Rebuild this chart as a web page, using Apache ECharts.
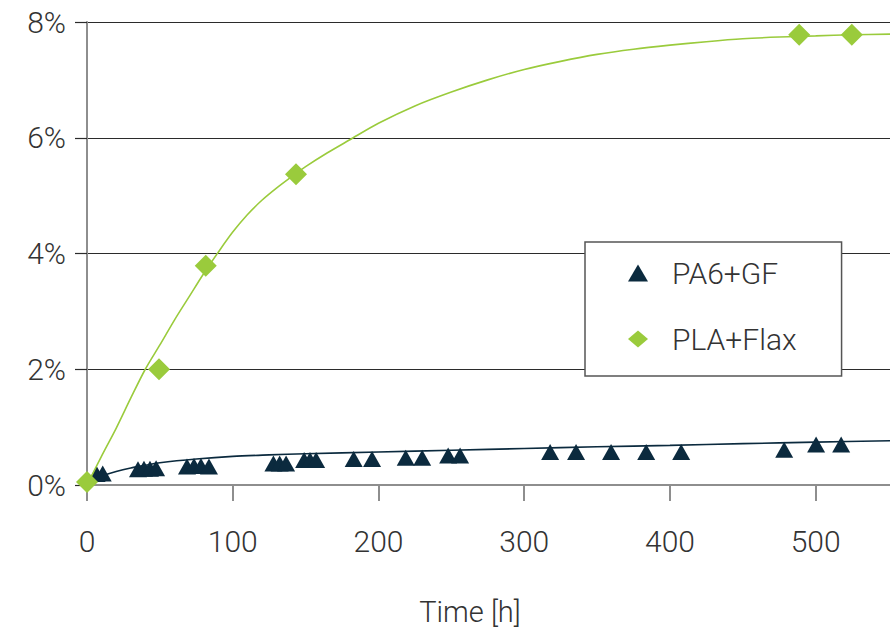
<!DOCTYPE html>
<html>
<head>
<meta charset="utf-8">
<script src="https://cdn.jsdelivr.net/npm/echarts@6/dist/echarts.min.js"></script>
<style>
  html, body { margin: 0; padding: 0; background: #fff; }
  #chart { width: 890px; height: 633px; }
</style>
</head>
<body>
<div id="chart"></div>
<script>
// ---- data ----
const seriesNames = ['PA6+GF', 'PLA+Flax'];
const xTickValues = [0, 100, 200, 300, 400, 500];
const yTickValues = [0, 2, 4, 6, 8];

// PA6+GF measurements (time h, moisture %)
const paT = [6.6, 10.8, 35, 39.1, 43.2, 47.4, 68.6, 73.4, 78.2, 83.7, 127.9, 132.2, 136.6, 149, 153, 157.2, 183, 195.6, 218.7, 230, 247.8, 256, 317.8, 335.6, 359.6, 383.7, 407.7, 478.4, 500.3, 517.5];
const paY = [0.19, 0.20, 0.27, 0.28, 0.28, 0.29, 0.32, 0.33, 0.33, 0.32, 0.37, 0.37, 0.37, 0.43, 0.43, 0.43, 0.45, 0.45, 0.47, 0.47, 0.51, 0.51, 0.57, 0.57, 0.57, 0.57, 0.57, 0.61, 0.70, 0.70];

// PA6+GF trend line
const paFitT = [0, 5, 10, 20, 30, 40, 50, 75, 100, 125, 150, 200, 250, 300, 350, 400, 450, 500, 551];
const paFitY = [0, 0.10, 0.155, 0.235, 0.295, 0.34, 0.385, 0.45, 0.495, 0.52, 0.54, 0.57, 0.60, 0.63, 0.66, 0.685, 0.715, 0.74, 0.765];

// PLA+Flax measurements
const plaT = [0, 49.4, 81.5, 143.4, 488.7, 524.8];
const plaY = [0.05, 2.0, 3.79, 5.37, 7.78, 7.78];

// PLA+Flax trend line
const plaFitT = [0, 10, 20, 30, 40, 50, 60, 70, 80, 90, 100, 110, 120, 130, 140, 150, 165, 180, 200, 225, 250, 275, 300, 325, 350, 375, 400, 425, 450, 475, 500, 525, 551];
const plaFitY = [0, 0.5, 0.98, 1.5, 2.0, 2.42, 2.85, 3.25, 3.65, 4.02, 4.37, 4.67, 4.92, 5.13, 5.32, 5.5, 5.74, 5.96, 6.25, 6.55, 6.79, 7.0, 7.18, 7.32, 7.44, 7.53, 7.6, 7.66, 7.71, 7.74, 7.76, 7.78, 7.79];

const xMax = 551;

// ---- helpers ----
const zip = (a, b) => a.map((v, i) => [v, b[i]]);

const navy = '#0b2a3e';
const green = '#9acb3c';
const textColor = '#333333';
const font = 'Roboto';

const chart = echarts.init(document.getElementById('chart'), null, { renderer: 'svg' });

chart.setOption({
  animation: false,
  backgroundColor: '#ffffff',
  textStyle: { fontFamily: font, fontWeight: 300 },
  grid: { left: 87, right: 0, top: 22, bottom: 148, containLabel: false },
  legend: {
    orient: 'vertical',
    left: 585,
    top: 242,
    backgroundColor: '#ffffff',
    borderColor: '#555555',
    borderWidth: 1.5,
    borderRadius: 0,
    padding: [16, 45, 22, 43],
    itemGap: 36,
    itemWidth: 20,
    itemHeight: 17,
    selectedMode: false,
    textStyle: { fontSize: 30, lineHeight: 30, color: textColor, fontFamily: font, fontWeight: 300, padding: [0, 0, 0, 19] },
    data: [
      { name: seriesNames[0], icon: 'triangle' },
      { name: seriesNames[1], icon: 'diamond' }
    ]
  },
  xAxis: {
    type: 'value',
    min: 0,
    max: xMax,
    interval: 100,
    name: 'Time [h]',
    nameLocation: 'middle',
    nameGap: 112,
    nameTextStyle: { fontSize: 29, color: textColor, fontFamily: font, fontWeight: 300, padding: [0, 37, 0, 0] },
    axisLine: { show: true, onZero: false, lineStyle: { color: '#8e8e8e', width: 2 } },
    axisTick: { show: true, length: 16, customValues: xTickValues, lineStyle: { color: '#8e8e8e', width: 2 } },
    axisLabel: { customValues: xTickValues, margin: 41, fontSize: 30, color: textColor, fontFamily: font, fontWeight: 300 },
    splitLine: { show: false }
  },
  yAxis: {
    type: 'value',
    min: 0,
    max: 8,
    interval: 2,
    axisLine: { show: true, lineStyle: { color: '#8e8e8e', width: 2 } },
    axisTick: { show: true, length: 12, lineStyle: { color: '#2b2b2b', width: 1.2 } },
    axisLabel: { margin: 21, fontSize: 30, color: textColor, fontFamily: font, fontWeight: 300,
                 formatter: v => v + '%' },
    splitLine: { show: true, lineStyle: { color: '#2b2b2b', width: 1.2 } }
  },
  series: [
    {
      name: seriesNames[0] + ' trend',
      type: 'line',
      data: zip(paFitT, paFitY),
      showSymbol: false,
      smooth: 0.3,
      lineStyle: { color: navy, width: 1.6 },
      itemStyle: { color: navy },
      z: 2
    },
    {
      name: seriesNames[0],
      type: 'scatter',
      data: zip(paT, paY),
      symbol: 'triangle',
      symbolSize: [18, 16],
      itemStyle: { color: navy, opacity: 1 },
      z: 3
    },
    {
      name: seriesNames[1] + ' trend',
      type: 'line',
      data: zip(plaFitT, plaFitY),
      showSymbol: false,
      smooth: 0.3,
      lineStyle: { color: green, width: 1.6 },
      itemStyle: { color: green },
      z: 4
    },
    {
      name: seriesNames[1],
      type: 'scatter',
      data: zip(plaT, plaY),
      symbol: 'diamond',
      symbolSize: 22,
      itemStyle: { color: green, opacity: 1 },
      z: 5
    }
  ]
});
</script>
</body>
</html>
